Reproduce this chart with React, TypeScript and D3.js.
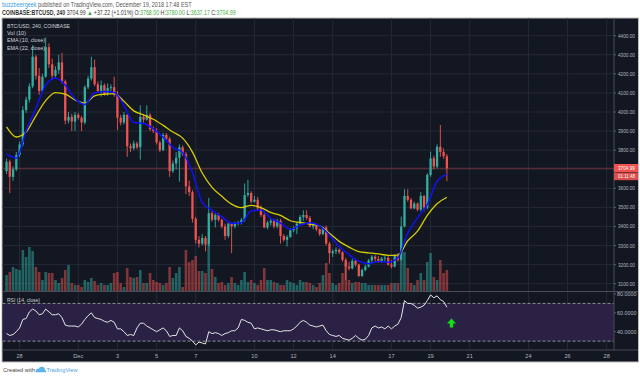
import React, { useEffect, useLayoutEffect, useRef, useState } from 'react';
import * as d3 from 'd3';

const W = 640;
const H = 377;

// ---- Data (BTC/USD 240, Coinbase) ----
const firstBarUtc = Date.UTC(2018, 10, 27, 8); // first 4h bar shown
const barHours = 4;

const opens = [
  3690, 3740, 3660, 3700, 3775, 3830, 4010, 4065, 4135, 4290, 4190, 4110, 4185, 4340, 4250, 4190, 4220, 4260, 4160, 3955,
  3975, 3950, 3985, 3970, 3945, 4130, 4175, 4235, 4145, 4110, 4140, 4095, 4125, 4130, 4090, 3970, 3945, 3985, 3820, 3810,
  3835, 3815, 3975, 3960, 3985, 3910, 3900, 3840, 3800, 3880, 3860, 3690, 3730, 3760, 3815, 3780, 3610, 3580, 3440, 3330,
  3310, 3340, 3305, 3470, 3435, 3460, 3435, 3400, 3350, 3415, 3400, 3415, 3420, 3435, 3565, 3575, 3530, 3540, 3495, 3460,
  3395, 3420, 3430, 3400, 3430, 3350, 3330, 3345, 3380, 3390, 3415, 3450, 3460, 3445, 3400, 3410, 3385, 3360, 3395, 3310,
  3260, 3270, 3278, 3265, 3225, 3190, 3180, 3220, 3200, 3140, 3172, 3190, 3222, 3242, 3230, 3218, 3232, 3236, 3200, 3190,
  3250, 3225, 3400, 3560, 3540, 3495, 3520, 3488, 3560, 3500, 3670, 3757, 3714, 3818, 3790, 3768,
];
const highs = [
  3755, 3750, 3715, 3790, 3845, 4030, 4080, 4150, 4350, 4300, 4230, 4200, 4390, 4360, 4280, 4240, 4300, 4310, 4170, 4000,
  3990, 4000, 3995, 3980, 4140, 4190, 4290, 4275, 4160, 4165, 4150, 4150, 4145, 4185, 4110, 3985, 4000, 3990, 3835, 3850,
  3845, 4035, 3990, 4035, 3995, 3925, 3915, 3850, 3890, 3890, 3870, 3745, 3790, 3830, 3825, 3790, 3640, 3590, 3450, 3350,
  3360, 3350, 3550, 3480, 3470, 3470, 3440, 3415, 3420, 3420, 3425, 3430, 3445, 3625, 3645, 3585, 3560, 3555, 3510, 3470,
  3430, 3440, 3440, 3440, 3440, 3360, 3355, 3390, 3400, 3420, 3460, 3485, 3485, 3455, 3420, 3415, 3390, 3400, 3405, 3320,
  3280, 3290, 3285, 3270, 3235, 3215, 3230, 3230, 3205, 3180, 3200, 3230, 3250, 3250, 3245, 3240, 3245, 3245, 3225, 3255,
  3260, 3452, 3595, 3595, 3550, 3530, 3525, 3580, 3565, 3680, 3792, 3770, 3830, 3932, 3810, 3780,
];
const lows = [
  3675, 3575, 3640, 3690, 3765, 3820, 3995, 4050, 4125, 4170, 4090, 4100, 4180, 4230, 4170, 4180, 4200, 4150, 3935, 3940,
  3900, 3900, 3960, 3900, 3935, 4120, 4165, 4135, 4100, 4080, 4085, 4085, 4110, 4080, 3905, 3930, 3935, 3765, 3790, 3800,
  3805, 3750, 3945, 3955, 3900, 3890, 3830, 3790, 3795, 3850, 3660, 3680, 3700, 3635, 3770, 3570, 3560, 3420, 3310, 3290,
  3300, 3270, 3295, 3425, 3395, 3425, 3390, 3330, 3340, 3260, 3390, 3405, 3410, 3425, 3555, 3520, 3525, 3485, 3450, 3390,
  3385, 3405, 3390, 3390, 3310, 3320, 3295, 3340, 3370, 3360, 3410, 3430, 3435, 3395, 3385, 3375, 3350, 3355, 3300, 3205,
  3240, 3255, 3255, 3215, 3120, 3170, 3175, 3190, 3135, 3135, 3165, 3185, 3205, 3215, 3210, 3210, 3215, 3195, 3180, 3185,
  3215, 3220, 3395, 3530, 3490, 3490, 3480, 3480, 3480, 3490, 3660, 3700, 3705, 3765, 3755, 3637.17,
];
const closes = [
  3740, 3660, 3700, 3775, 3830, 4010, 4065, 4135, 4290, 4190, 4110, 4185, 4340, 4250, 4190, 4220, 4260, 4160, 3955, 3975,
  3950, 3985, 3970, 3945, 4130, 4175, 4235, 4145, 4110, 4140, 4095, 4125, 4130, 4090, 3970, 3945, 3985, 3820, 3810, 3835,
  3815, 3975, 3960, 3985, 3910, 3900, 3840, 3800, 3880, 3860, 3690, 3730, 3760, 3815, 3780, 3610, 3580, 3440, 3330, 3310,
  3340, 3305, 3470, 3435, 3460, 3435, 3400, 3350, 3415, 3400, 3415, 3420, 3435, 3565, 3575, 3530, 3540, 3495, 3460, 3395,
  3420, 3430, 3400, 3430, 3350, 3330, 3345, 3380, 3390, 3415, 3450, 3460, 3445, 3400, 3410, 3385, 3360, 3395, 3310, 3260,
  3270, 3278, 3265, 3225, 3190, 3180, 3220, 3200, 3140, 3172, 3190, 3222, 3242, 3230, 3218, 3232, 3236, 3200, 3190, 3250,
  3225, 3400, 3560, 3540, 3495, 3520, 3488, 3560, 3500, 3670, 3757, 3714, 3818, 3790, 3768, 3704.99,
];
const volumes = [
  1600, 1900, 2400, 2200, 2100, 4100, 3400, 4400, 4000, 2400, 1900, 1100, 1900, 1800, 1800, 1100, 800, 1300, 2100, 2600,
  800, 600, 600, 400, 1100, 900, 1300, 1000,
  600, 800, 600, 600, 800, 1800, 1900, 800, 400, 2300, 1400, 1300, 1400, 2100, 800, 800, 1800, 1100, 900, 800, 600, 800,
  2400, 1300, 1800, 2400, 400, 4100,
  2900, 3100, 3500, 2000, 2000, 1800, 4600, 2200, 1400, 800, 900, 600, 800, 1400, 800, 600, 1100, 1900, 900, 1100,
  800, 600, 1100, 2300, 1100, 1100, 900, 800,
  600, 600, 1100, 900, 800, 600, 1100, 900, 900, 800, 600, 400, 800, 1600, 2800, 1800, 800, 600, 800, 1800,
  2800, 1100, 800, 900, 900, 800, 800, 600,
  600, 600, 600, 600, 600, 600, 800, 800, 800, 3100, 3900, 2300, 800, 600, 1100, 1800, 1100, 2900, 3800, 1400,
  1100, 3100, 1800, 2100,
];
// EMA values read every 3rd bar (bars 0,3,6,...,135)
const emaStep = 3;
const ema10 = [
  3780, 3758, 3900, 4020, 4140, 4178, 4140, 4070, 4040, 4100, 4108, 4102, 4035, 3945, 3940, 3912, 3868, 3815, 3788, 3683,
  3525, 3485, 3450, 3417, 3420, 3481, 3486, 3443, 3418, 3385, 3407, 3420, 3403, 3355, 3295, 3252, 3218, 3205, 3216, 3212,
  3236, 3365, 3445, 3515, 3637, 3673,
];
const ema22 = [
  3922, 3869, 3895, 3980, 4060, 4102, 4094, 4063, 4046, 4085, 4093, 4096, 4056, 4006, 3985, 3962, 3930, 3895, 3863, 3790,
  3680, 3605, 3558, 3517, 3499, 3511, 3499, 3474, 3458, 3430, 3421, 3413, 3403, 3364, 3322, 3292, 3268, 3262, 3256, 3249,
  3250, 3325, 3376, 3458, 3519, 3553,
];
const rsi = [
  38, 36, 37, 40, 44, 53, 54, 61, 64, 62, 58, 59, 64, 61, 58, 58, 59, 55, 47, 46,
  46, 46, 45, 48, 53, 57, 60, 55, 54, 53, 51, 50, 52, 50, 43, 43, 40, 36, 37, 36,
  44, 49, 49, 46, 44, 42, 40, 42, 44, 41, 35, 36, 36, 44, 41, 35, 33, 30, 26, 29,
  28, 27, 40, 38, 39, 38, 36, 38, 39, 41, 41, 44, 53, 52, 50, 49, 43, 44, 43, 42,
  41, 42, 42, 41, 40, 41, 41, 41, 43, 46, 50, 52, 50, 47, 46, 45, 46, 47, 41, 37,
  36, 35, 36, 33, 32, 31, 33, 36, 33, 31, 32, 36, 44, 46, 44, 45, 43, 46, 43, 46,
  48, 55, 73, 70, 70, 68, 65, 66, 68, 73, 79, 76, 78, 74, 72, 66,
];

const priceTicks = [4400, 4300, 4200, 4100, 4000, 3900, 3800, 3700, 3600, 3500, 3400, 3300, 3200, 3100];
const priceTickLabels = priceTicks.filter((p) => p !== 3700);
const rsiTicks = [80, 60, 40];
const rsiBands = [70, 30];
const dateTicks = ['2018-11-28', '2018-12-01', '2018-12-03', '2018-12-05', '2018-12-07', '2018-12-10', '2018-12-12',
  '2018-12-14', '2018-12-17', '2018-12-19', '2018-12-21', '2018-12-24', '2018-12-26', '2018-12-28'];
const dateLabels = ['28', 'Dec', '3', '5', '7', '10', '12', '14', '17', '19', '21', '24', '26', '28'];

const lastPrice = 3704.99;
const countdown = '01:11:48';

const UP = '#2fb0a3';
const DOWN = '#ef5350';
const BG = '#131722';
const GRID = '#252936';
const AXIS_TXT = '#b2b5be';
const FONT = "'Liberation Sans', Arial, sans-serif";

export default function App() {
  useEffect(() => {
    document.body.style.margin = '0';
  }, []);

  const line1Ref = useRef<SVGTextElement>(null);
  const line2Ref = useRef<SVGTextElement>(null);
  const [sx, setSx] = useState<[number, number]>([1, 1]);
  useLayoutEffect(() => {
    const w1 = line1Ref.current ? line1Ref.current.getComputedTextLength() : 190;
    const w2 = line2Ref.current ? line2Ref.current.getComputedTextLength() : 234;
    setSx([190 / (w1 || 190), 234 / (w2 || 234)]);
  }, []);

  const L = 2.5, R = 614, T = 18.5, PB = 291.5, RB = 350, TB = 361.5, AR = 638;

  const x = d3.scaleUtc()
    .domain([new Date(Date.UTC(2018, 11, 1)), new Date(Date.UTC(2018, 11, 28))])
    .range([78.3, 606.7]);
  const y = d3.scaleLinear().domain([3100, 4400]).range([283.7, 35.7]);
  const yVol = d3.scaleLinear().domain([0, 4600]).range([291, 245]);
  const yRsi = d3.scaleLinear().domain([40, 80]).range([331.7, 294]);

  const times = closes.map((_, i) => new Date(firstBarUtc + i * barHours * 3600e3));
  const xb = (i: number) => x(times[i]);

  const emaLine = (arr: number[]) =>
    d3.line<number>()
      .x((_, j) => xb(j * emaStep))
      .y((v) => y(v))
      .curve(d3.curveMonotoneX)(arr) || '';

  const rsiPath = d3.line<number>().x((_, i) => xb(i)).y((v) => yRsi(v))(rsi) || '';

  const bodyW = 2.3;
  const volW = 2.6;
  const adj = 'spacingAndGlyphs';

  return (
    <svg width={W} height={H} style={{ position: 'absolute', left: 0, top: 0, display: 'block', background: '#fff' }}
      fontFamily={FONT}>
      <defs>
        <clipPath id="pc"><rect x={L} y={T} width={R - L} height={PB - T} /></clipPath>
        <clipPath id="rc"><rect x={L} y={PB} width={R - L} height={RB - PB} /></clipPath>
      </defs>

      {/* header */}
      <g transform={`translate(2,7.3) scale(${sx[0]},1)`}>
        <text ref={line1Ref} x={0} y={0} fontSize={6.3} fill="#555">
          <tspan fill="#3d9be0">buzzbeergeek</tspan>
          <tspan> published on TradingView.com, December 19, 2018 17:48 EST</tspan>
        </text>
      </g>
      <g transform={`translate(2,15) scale(${sx[1]},1)`}>
        <text ref={line2Ref} x={0} y={0} fontSize={6.3} fill="#333">
          <tspan fontWeight="bold">COINBASE:BTCUSD, 240 </tspan>
          <tspan>3704.99 </tspan>
          <tspan fill="#2e9d3a">▲</tspan>
          <tspan> +37.22 (+1.01%) O:</tspan>
          <tspan fill="#3fae3a">3768.00</tspan>
          <tspan> H:</tspan>
          <tspan fill="#3fae3a">3780.00</tspan>
          <tspan> L:</tspan>
          <tspan fill="#3fae3a">3637.17</tspan>
          <tspan> C:</tspan>
          <tspan fill="#3fae3a">3704.99</tspan>
        </text>
      </g>

      {/* frame */}
      <rect x={L - 0.5} y={T - 0.5} width={AR - L + 1} height={TB - T + 1} fill={BG} stroke="#bdbdbd" strokeWidth={1} />

      {/* grid: price */}
      {priceTicks.map((p) => (
        <line key={'hg' + p} x1={L} x2={R} y1={y(p)} y2={y(p)} stroke={GRID} strokeWidth={1} />
      ))}
      {/* grid: rsi */}
      {rsiTicks.slice(1).map((v) => (
        <line key={'rg' + v} x1={L} x2={R} y1={yRsi(v)} y2={yRsi(v)} stroke={GRID} strokeWidth={1} />
      ))}
      {/* grid: dates */}
      {dateTicks.map((d) => {
        const xx = x(new Date(d + 'T00:00:00Z'));
        return <line key={'vg' + d} x1={xx} x2={xx} y1={T} y2={RB} stroke={GRID} strokeWidth={1} />;
      })}

      {/* RSI band */}
      <rect x={L} y={yRsi(rsiBands[0])} width={R - L} height={yRsi(rsiBands[1]) - yRsi(rsiBands[0])} fill="#2a2144" />
      {rsiBands.map((v) => (
        <line key={'rb' + v} x1={L} x2={R} y1={yRsi(v)} y2={yRsi(v)} stroke="#8a8d96" strokeWidth={1} strokeDasharray="3,2" />
      ))}

      {/* price pane content */}
      <g clipPath="url(#pc)">
        {volumes.map((v, i) => (
          <rect key={'v' + i} x={xb(i) - volW / 2} y={yVol(v)} width={volW} height={yVol(0) - yVol(v)}
            fill={closes[i] >= opens[i] ? UP : DOWN} fillOpacity={0.5} />
        ))}
        <line x1={L} x2={R} y1={y(lastPrice)} y2={y(lastPrice)} stroke={DOWN} strokeOpacity={0.4} strokeWidth={1} />
        {closes.map((c, i) => {
          const o = opens[i];
          const col = c >= o ? UP : DOWN;
          const top = y(Math.max(o, c));
          const bot = y(Math.min(o, c));
          return (
            <g key={'c' + i}>
              <line x1={xb(i)} x2={xb(i)} y1={y(highs[i])} y2={y(lows[i])} stroke={col} strokeWidth={0.9} />
              <rect x={xb(i) - bodyW / 2} y={top} width={bodyW} height={Math.max(0.8, bot - top)} fill={col} />
            </g>
          );
        })}
        <path d={emaLine(ema22)} fill="none" stroke="#d6cc00" strokeWidth={1.3} />
        <path d={emaLine(ema10)} fill="none" stroke="#1010ff" strokeWidth={1.5} />
      </g>

      {/* RSI */}
      <g clipPath="url(#rc)">
        <path d={rsiPath} fill="none" stroke="#e6e6e6" strokeWidth={1} />
      </g>

      {/* green arrow */}
      <path d="M451.5,318.5 L456,323.5 L453.2,323.5 L453.2,327.5 L449.8,327.5 L449.8,323.5 L447,323.5 Z" fill="#12e012" />

      {/* pane separators */}
      <line x1={L} x2={AR} y1={PB} y2={PB} stroke="#4a4d57" strokeWidth={1.2} />
      <line x1={L} x2={AR} y1={RB} y2={RB} stroke="#4a4d57" strokeWidth={1} />
      <line x1={R} x2={R} y1={T} y2={RB} stroke="#4a4d57" strokeWidth={1} />

      {/* legend */}
      <g fontSize={5.8} fill="#d1d4dc">
        <text x={7} y={28} textLength={63} lengthAdjust={adj}>BTC/USD, 240, COINBASE</text>
        <text x={7} y={35.2} textLength={19} lengthAdjust={adj}>Vol (10)</text>
        <text x={7} y={42.4} textLength={38} lengthAdjust={adj}>EMA (10, close)</text>
        <text x={7} y={49.6} textLength={38} lengthAdjust={adj}>EMA (22, close)</text>
        <text x={7} y={302} textLength={33} lengthAdjust={adj}>RSI (14, close)</text>
      </g>

      {/* price axis */}
      <g fontSize={5.4} fill={AXIS_TXT}>
        {priceTickLabels.map((p) => (
          <g key={'pl' + p}>
            <line x1={R} x2={R + 2} y1={y(p)} y2={y(p)} stroke="#6a6d78" strokeWidth={0.8} />
            <text x={618} y={y(p) + 2} textLength={17} lengthAdjust={adj}>{d3.format('.2f')(p)}</text>
          </g>
        ))}
        {rsiTicks.map((v) => (
          <g key={'rl' + v}>
            <line x1={R} x2={R + 2} y1={yRsi(v)} y2={yRsi(v)} stroke="#6a6d78" strokeWidth={0.8} />
            <text x={617} y={yRsi(v) + 2} textLength={19.5} lengthAdjust={adj}>{d3.format('.4f')(v)}</text>
          </g>
        ))}
      </g>
      {/* last price label */}
      <rect x={R} y={y(lastPrice) - 4.3} width={AR - R} height={8.2} fill={DOWN} />
      <rect x={R} y={y(lastPrice) + 4.3} width={AR - R} height={7.6} fill={DOWN} fillOpacity={0.9} />
      <text x={618} y={y(lastPrice) + 2.1} fontSize={5.4} fill="#fff" textLength={17} lengthAdjust={adj}>{d3.format('.2f')(lastPrice)}</text>
      <text x={618} y={y(lastPrice) + 10.2} fontSize={5.4} fill="#fff" textLength={17} lengthAdjust={adj}>{countdown}</text>

      {/* time axis */}
      <g fontSize={5.6} fill={AXIS_TXT} textAnchor="middle">
        {dateTicks.map((d, i) => (
          <text key={'dl' + d} x={x(new Date(d + 'T00:00:00Z'))} y={358}>{dateLabels[i]}</text>
        ))}
      </g>

      {/* footer */}
      <text x={3} y={371.5} fontSize={6} fill="#444" textLength={32} lengthAdjust={adj}>Created with</text>
      <g transform="translate(35.5,366.3)">
        <path d="M0,5 Q0,2 3,2.5 Q4,0 7,0.5 Q9.5,1 9.5,3.5 Q11,4 10.5,6 L0.5,6 Z" fill="#5bb4ec" />
      </g>
      <text x={46.5} y={371.5} fontSize={6} fill="#4aa3e0" textLength={31} lengthAdjust={adj}>TradingView</text>
    </svg>
  );
}
